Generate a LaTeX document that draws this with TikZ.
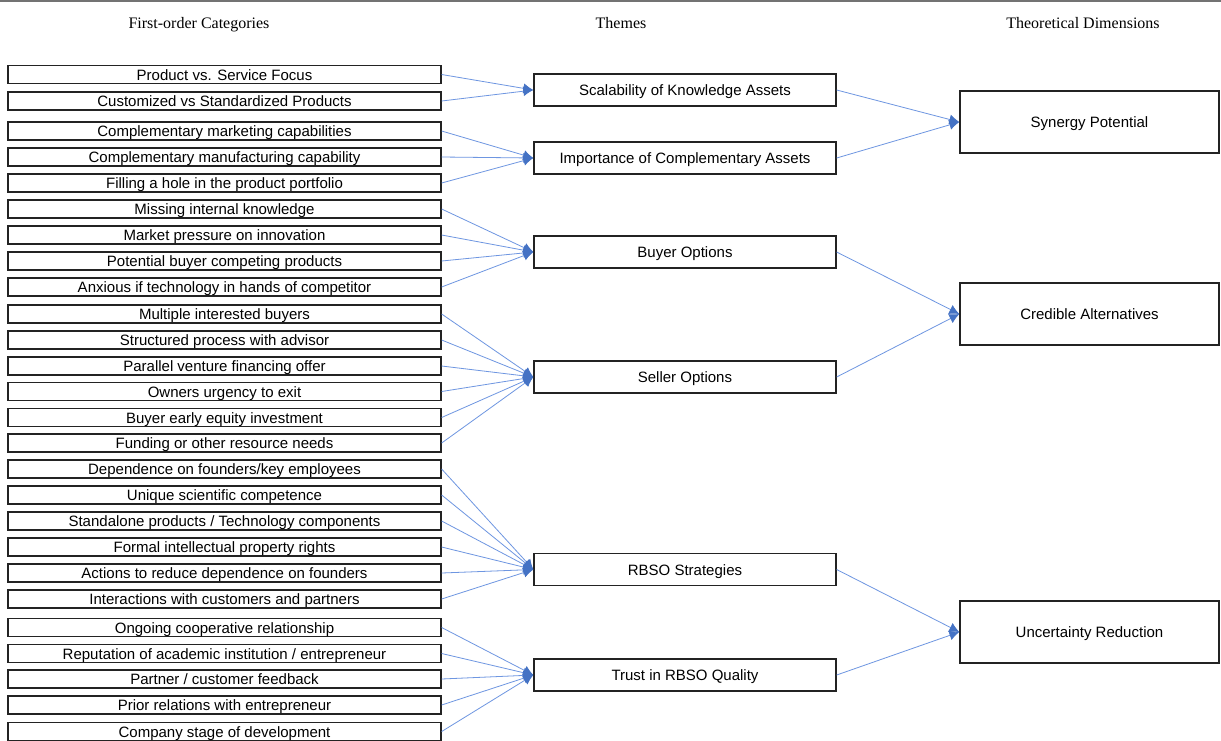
\documentclass[tikz,border=0pt]{standalone}
\usepackage{fontspec}
\setmainfont{Liberation Serif}
\newfontfamily\arialf{Liberation Sans}
\usetikzlibrary{arrows.meta}
\definecolor{lnk}{RGB}{110,150,225}
\definecolor{tipc}{RGB}{68,114,196}
\definecolor{boxc}{RGB}{35,35,35}
\begin{document}
\begin{tikzpicture}[x=1pt,y=-1pt,
  basebox/.style={draw=boxc,line width=1.3pt,inner sep=0pt,text height=11pt,text depth=0pt,font=\arialf\fontsize{15}{16}\selectfont},
  cat/.style={basebox,minimum width=433pt,minimum height=18pt},
  theme/.style={basebox,minimum width=302pt,minimum height=32pt},
  dim/.style={basebox,minimum width=259pt,minimum height=62pt},
  head/.style={font=\fontsize{16}{18}\selectfont,inner sep=0pt,text height=11pt,text depth=0pt},
  conn/.style={draw=lnk,line width=0.8pt,-{Latex[length=10pt,width=10pt,fill=tipc,color=tipc]}}
]
\useasboundingbox (0,0) rectangle (1221,740);
\fill[white] (0,0) rectangle (1221,740);
\draw[black!55,line width=1.5pt] (0,1) -- (1221,1);

\node[head] (h1) at (199,22.5) {First-order Categories};
\node[head] (h2) at (621,22.5) {Themes};
\node[head] (h3) at (1083,22.5) {Theoretical Dimensions};

\foreach \i/\y/\t in {
 1/74.5/{Product vs. Service Focus},
 2/101/{Customized vs Standardized Products},
 3/131/{Complementary marketing capabilities},
 4/157/{Complementary manufacturing capability},
 5/183/{Filling a hole in the product portfolio},
 6/209/{Missing internal knowledge},
 7/235/{Market pressure on innovation},
 8/261/{Potential buyer competing products},
 9/287/{Anxious if technology in hands of competitor},
 10/314/{Multiple interested buyers},
 11/340/{Structured process with advisor},
 12/366/{Parallel venture financing offer},
 13/391.5/{Owners urgency to exit},
 14/417.5/{Buyer early equity investment},
 15/443/{Funding or other resource needs},
 16/469/{Dependence on founders/key employees},
 17/495/{Unique scientific competence},
 18/521/{Standalone products / Technology components},
 19/547/{Formal intellectual property rights},
 20/573/{Actions to reduce dependence on founders},
 21/599/{Interactions with customers and partners},
 22/627.5/{Ongoing cooperative relationship},
 23/653.5/{Reputation of academic institution / entrepreneur},
 24/679/{Partner / customer feedback},
 25/705/{Prior relations with entrepreneur},
 26/731.5/{Company stage of development}}
  \node[cat] (c\i) at (224.5,\y) {\t};

\node[theme] (t1) at (685,90) {Scalability of Knowledge Assets};
\node[theme] (t2) at (685,158) {Importance of Complementary Assets};
\node[theme] (t3) at (685,252) {Buyer Options};
\node[theme] (t4) at (685,377) {Seller Options};
\node[theme] (t5) at (685,569.5) {RBSO Strategies};
\node[theme] (t6) at (685,675) {Trust in RBSO Quality};

\node[dim] (d1) at (1089.5,122) {Synergy Potential};
\node[dim] (d2) at (1089.5,314) {Credible Alternatives};
\node[dim] (d3) at (1089.5,632) {Uncertainty Reduction};

\foreach \i in {1,2} \draw[conn] (c\i.east) -- (t1.west);
\foreach \i in {3,4,5} \draw[conn] (c\i.east) -- (t2.west);
\foreach \i in {6,7,8,9} \draw[conn] (c\i.east) -- (t3.west);
\foreach \i in {10,...,15} \draw[conn] (c\i.east) -- (t4.west);
\foreach \i in {16,...,21} \draw[conn] (c\i.east) -- (t5.west);
\foreach \i in {22,...,26} \draw[conn] (c\i.east) -- (t6.west);

\foreach \i in {1,2} \draw[conn] (t\i.east) -- (d1.west);
\foreach \i in {3,4} \draw[conn] (t\i.east) -- (d2.west);
\foreach \i in {5,6} \draw[conn] (t\i.east) -- (d3.west);
\end{tikzpicture}
\end{document}
